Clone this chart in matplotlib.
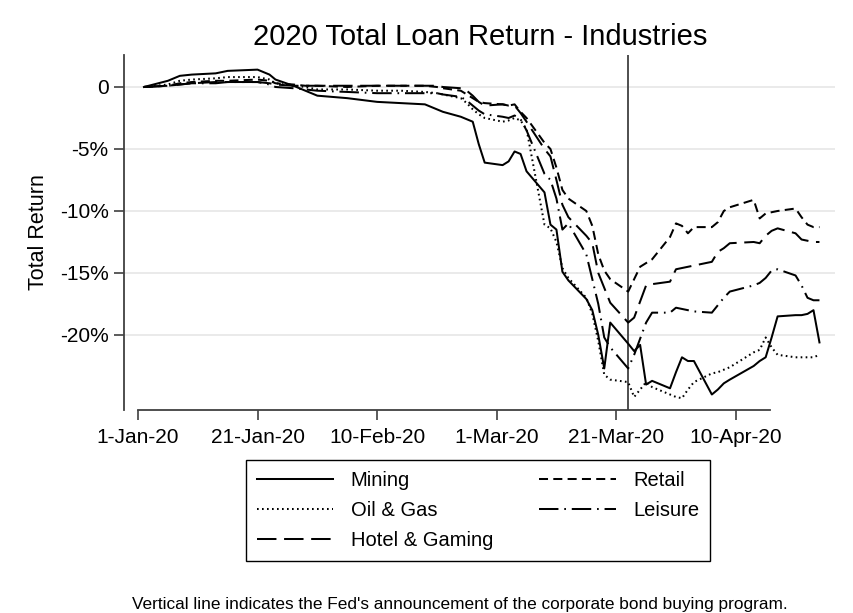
import matplotlib
matplotlib.use('Agg')
import matplotlib.pyplot as plt
import matplotlib.dates as mdates
import pandas as pd

plt.rcParams['font.family'] = ['Liberation Sans', 'DejaVu Sans']
plt.rcParams['lines.scale_dashes'] = False

# trading days
dates = pd.to_datetime([
    '2020-01-02', '2020-01-06', '2020-01-08', '2020-01-10', '2020-01-14', '2020-01-16',
    '2020-01-21', '2020-01-23', '2020-01-24', '2020-01-27', '2020-01-29', '2020-01-31',
    '2020-02-05', '2020-02-10', '2020-02-14', '2020-02-18', '2020-02-20', '2020-02-21',
    '2020-02-24', '2020-02-25', '2020-02-26', '2020-02-27', '2020-02-28',
    '2020-03-02', '2020-03-03', '2020-03-04', '2020-03-05', '2020-03-06',
    '2020-03-09', '2020-03-10', '2020-03-11', '2020-03-12', '2020-03-13',
    '2020-03-16', '2020-03-17', '2020-03-18', '2020-03-19', '2020-03-20',
    '2020-03-23', '2020-03-24', '2020-03-25', '2020-03-26', '2020-03-27',
    '2020-03-30', '2020-03-31', '2020-04-01', '2020-04-02', '2020-04-03',
    '2020-04-06', '2020-04-07', '2020-04-08', '2020-04-09',
    '2020-04-13', '2020-04-14', '2020-04-15', '2020-04-16', '2020-04-17',
    '2020-04-20', '2020-04-21', '2020-04-22', '2020-04-23', '2020-04-24'])

mining = [0, 0.5, 0.9, 1.0, 1.1, 1.3, 1.4, 1.0, 0.6, 0.1, -0.3, -0.7,
          -0.9, -1.2, -1.3, -1.4, -1.8, -2.0, -2.4, -2.6, -2.8, -4.6, -6.1,
          -6.3, -6.0, -5.2, -5.4, -6.8, -8.5, -11.1, -11.5, -14.9, -15.6,
          -17.1, -18.0, -20.0, -22.7, -19.0, -20.7, -21.3, -20.8, -24.0, -23.7,
          -24.3, -23.0, -21.8, -22.1, -22.1, -24.8, -24.4, -23.9, -23.6,
          -22.5, -22.1, -21.8, -20.2, -18.5, -18.4, -18.4, -18.3, -18.0, -20.6]
oil_gas = [0, 0.2, 0.5, 0.6, 0.7, 0.8, 0.8, 0.6, 0.3, 0.1, 0.0, -0.2,
           -0.2, -0.3, -0.3, -0.4, -0.5, -0.6, -0.9, -1.3, -1.8, -2.2, -2.5,
           -2.8, -2.7, -2.5, -2.7, -3.4, -11.1, -11.4, -12.5, -14.6, -15.4,
           -17.0, -18.3, -20.5, -23.2, -23.6, -23.8, -25.0, -24.4, -23.8, -24.2,
           -24.8, -25.0, -25.1, -24.4, -23.8, -23.1, -23.0, -22.8, -22.6,
           -21.4, -21.2, -20.2, -21.0, -21.6, -21.8, -21.8, -21.8, -21.8, -21.6]
hotel = [0, 0.1, 0.2, 0.3, 0.4, 0.4, 0.4, 0.3, 0.2, 0.1, 0.1, 0.1,
         0.1, 0.1, 0.1, 0.1, 0.1, 0.0, -0.1, -0.3, -0.7, -1.2, -1.5,
         -1.4, -1.5, -1.5, -2.1, -2.8, -5.0, -5.6, -7.5, -9.5, -10.5,
         -12.0, -12.6, -15.0, -16.2, -17.4, -19.0, -18.6, -17.3, -16.0, -15.9,
         -15.7, -14.7, -14.6, -14.5, -14.4, -14.1, -13.3, -13.0, -12.6,
         -12.5, -12.6, -12.0, -11.6, -11.4, -11.8, -12.3, -12.4, -12.5, -12.5]
retail = [0, 0.1, 0.3, 0.4, 0.5, 0.5, 0.6, 0.5, 0.3, 0.2, 0.1, 0.1,
          0.0, 0.1, 0.1, 0.1, 0.0, -0.1, -0.3, -0.6, -0.9, -1.2, -1.3,
          -1.4, -1.5, -1.4, -2.0, -2.5, -4.5, -5.0, -6.5, -8.3, -9.0,
          -10.0, -11.2, -13.5, -14.8, -15.5, -16.5, -15.5, -14.5, -14.2, -13.9,
          -12.1, -11.0, -11.2, -11.8, -11.3, -11.3, -10.9, -10.0, -9.7,
          -9.1, -10.6, -10.2, -10.1, -10.0, -9.8, -10.5, -11.1, -11.3, -11.3]
leisure = [0, 0.1, 0.2, 0.3, 0.3, 0.4, 0.4, 0.2, 0.0, -0.1, -0.2, -0.3,
           -0.4, -0.5, -0.5, -0.5, -0.5, -0.6, -0.8, -1.1, -1.5, -1.9, -2.2,
           -2.4, -2.5, -2.3, -2.6, -3.5, -7.0, -7.5, -9.0, -11.5, -11.0,
           -13.5, -15.5, -17.5, -20.2, -21.0, -22.7, -21.6, -20.3, -19.0, -18.2,
           -18.2, -17.8, -17.9, -18.0, -18.1, -18.2, -17.6, -17.0, -16.5,
           -16.0, -15.8, -15.4, -14.8, -14.7, -15.2, -16.0, -17.0, -17.2, -17.2]

names = ['Mining', 'Oil & Gas', 'Hotel & Gaming', 'Retail', 'Leisure']
series = [mining, oil_gas, hotel, retail, leisure]
styles = ['-', (0, (1.2, 2.4)), (0, (14, 5.5)), (0, (6.5, 3.8)), (0, (14, 4.2, 1.2, 4.2))]

xtick_dates = pd.to_datetime(['2020-01-01', '2020-01-21', '2020-02-10',
                              '2020-03-01', '2020-03-21', '2020-04-10'])
xtick_labels = ['1-Jan-20', '21-Jan-20', '10-Feb-20', '1-Mar-20', '21-Mar-20', '10-Apr-20']
yticks = [0, -5, -10, -15, -20]
ytick_labels = ['0', '-5%', '-10%', '-15%', '-20%']
fed_date = pd.Timestamp('2020-03-23')

axcol = '#404040'
fig = plt.figure(figsize=(8.54, 6.13), dpi=100)
ax = fig.add_axes([124/854, 1-410/613, (835-124)/854, (410-55)/613])

for y in yticks:
    ax.axhline(y, color='#e6e6e6', lw=1.2, zorder=0)
ax.axvline(fed_date, color=axcol, lw=1.3, zorder=1)

handles = []
for name, vals, ls in zip(names, series, styles):
    h, = ax.plot(dates, vals, color='black', lw=1.45, ls=ls, label=name, zorder=2)
    handles.append(h)

t0 = pd.Timestamp('2020-01-01')
ax.set_xlim(t0 - pd.Timedelta(days=2.34), t0 + pd.Timedelta(days=116.6))
ax.set_ylim(-26.05, 2.58)

ax.set_xticks(xtick_dates)
ax.set_xticklabels(xtick_labels)
ax.set_yticks(yticks)
ax.set_yticklabels(ytick_labels)
ax.tick_params(axis='both', labelsize=15, color=axcol, width=1.2, length=7, pad=4)
ax.tick_params(axis='x', pad=6)

for s in ['top', 'right']:
    ax.spines[s].set_visible(False)
for s in ['left', 'bottom']:
    ax.spines[s].set_color(axcol)
    ax.spines[s].set_linewidth(1.3)
ax.spines['bottom'].set_bounds(mdates.date2num(t0),
                               mdates.date2num(t0 + pd.Timedelta(days=105.8)))

ax.set_ylabel('Total Return', fontsize=15.5, labelpad=8)

fig.text(480/854, 1-37/613, '2020 Total Loan Return - Industries',
         fontsize=21, ha='center', va='center')

leg = fig.legend(handles, names, ncol=2, loc='upper center',
                 bbox_to_anchor=(478/854, 1-460/613), fontsize=14.5,
                 frameon=True, fancybox=False, edgecolor='black', framealpha=1,
                 handlelength=3.8, handletextpad=0.85, columnspacing=2.3,
                 labelspacing=0.55, borderpad=0.55, borderaxespad=0)
leg.get_frame().set_linewidth(1.0)

fig.text(460/854, 1-605/613,
         "Vertical line indicates the Fed's announcement of the corporate bond buying program.",
         fontsize=12.4, ha='center', va='center')

fig.savefig('out.png', dpi=100)
